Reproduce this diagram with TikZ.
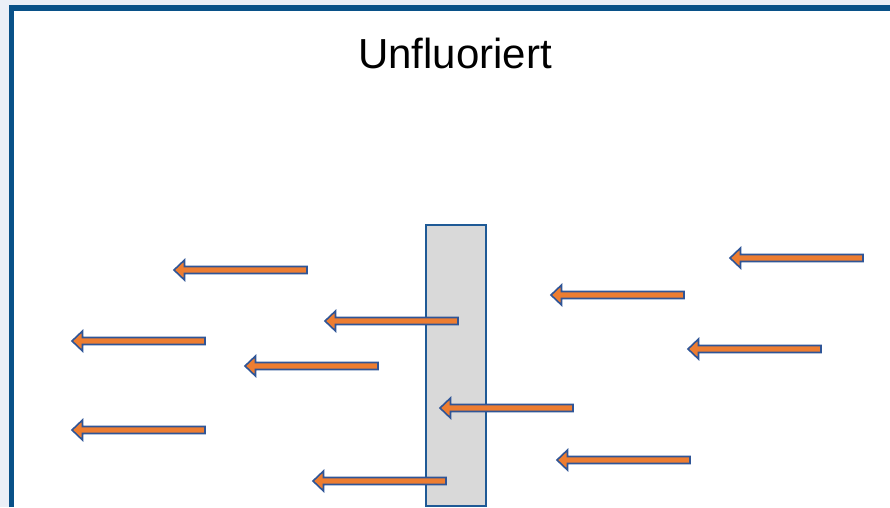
\documentclass[tikz,border=0pt]{standalone}
\usepackage{fontspec}
\setmainfont{Liberation Sans}
\definecolor{framebg}{RGB}{235,239,247}
\definecolor{frameblue}{RGB}{9,81,136}
\definecolor{arrowblue}{RGB}{47,85,151}
\definecolor{arroworange}{RGB}{237,125,49}
\definecolor{membranegray}{RGB}{217,217,217}
\definecolor{membraneblue}{RGB}{31,90,150}
\begin{document}
\begin{tikzpicture}[x=1pt,y=-1pt,
  frameline/.style={frameblue,line width=5.5pt},
  membrane/.style={draw=membraneblue,fill=membranegray,line width=2pt},
  barrow/.pic={\filldraw[draw=arrowblue,fill=arroworange,line width=1.6pt,line join=miter]
     (0,0) -- (10.5,-10) -- (10.5,-3.5) -- (133,-3.5) -- (133,3.5) -- (10.5,3.5) -- (10.5,10) -- cycle;},
  titletext/.style={font=\fontsize{42}{48}\selectfont,inner sep=0pt,anchor=base}]
\useasboundingbox (0,0) rectangle (890,507);
\fill[framebg] (0,0) rectangle (890,507);
\fill[white] (11.5,7.75) rectangle (890,507);
\draw[frameline] (11.5,507) -- (11.5,7.75) -- (890,7.75);
\node[titletext] (title) at (455,68.3) {Unfluoriert};
\draw[membrane] (425.5,224.5) rectangle (485.5,505.5);
\coordinate (membranecenter) at (455.5,365);
\pic at (174,270) {barrow};
\pic at (72,341) {barrow};
\pic at (245,366) {barrow};
\pic at (72,430) {barrow};
\pic at (325,321) {barrow};
\pic at (313,481) {barrow};
\pic at (440,408) {barrow};
\pic at (551,295) {barrow};
\pic at (730,258) {barrow};
\pic at (688,349) {barrow};
\pic at (557,460) {barrow};
\end{tikzpicture}
\end{document}
